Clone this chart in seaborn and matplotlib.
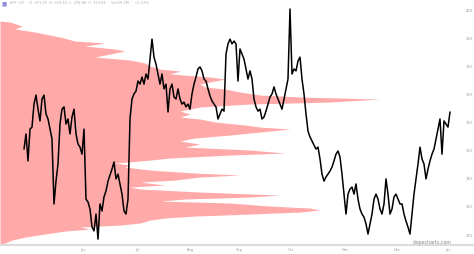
import numpy as np
import pandas as pd
import matplotlib
matplotlib.use("Agg")
import matplotlib.pyplot as plt
import seaborn as sns

# ---- data ----
price = [
    350.2, 355.6, 346.0, 357.3, 358.0, 366.2, 369.4, 364.4, 360.2, 368.0,
    369.4, 362.7, 360.9, 357.3, 353.8, 330.7, 338.8, 344.9, 359.1, 364.4,
    365.2, 359.1, 360.9, 355.6, 361.6, 364.4, 355.6, 352.0, 350.9, 348.4,
    357.3, 332.4, 331.4, 328.9, 322.5, 321.1, 327.1, 318.2, 330.7, 328.2,
    333.2, 335.3, 338.8, 341.0, 343.1, 345.6, 339.6, 341.3, 337.8, 334.2,
    328.2, 327.1, 332.4, 360.9, 368.0, 369.8, 370.8, 374.4, 373.3, 375.8,
    373.3, 376.9, 375.1, 382.2, 389.3, 382.9, 380.4, 376.9, 373.3, 376.9,
    371.6, 373.3, 363.4, 371.6, 373.3, 368.7, 368.0, 371.6, 368.0, 366.2,
    366.9, 365.2, 366.2, 364.4, 369.8, 373.3, 375.8, 378.7, 379.4, 378.0,
    375.1, 374.4, 371.6, 369.1, 367.3, 366.2, 365.2, 360.9, 362.7, 364.4,
    363.7, 384.0, 387.6, 389.3, 387.6, 388.6, 387.6, 374.4, 385.8, 384.0,
    382.2, 378.7, 375.1, 378.0, 375.1, 368.0, 365.2, 363.7, 364.4, 360.9,
    361.6, 363.7, 366.2, 368.7, 369.8, 372.3, 369.8, 368.0, 366.2, 364.4,
    368.0, 371.6, 375.1, 400.0, 376.9, 378.7, 378.0, 381.5, 382.9, 375.1,
    369.8, 362.7, 356.6, 354.5, 353.1, 351.6, 350.2, 350.9, 346.7, 341.3,
    338.8, 340.3, 341.3, 342.4, 343.8, 346.0, 348.4, 349.5, 347.4, 341.3,
    334.2, 327.1, 334.2, 336.0, 336.7, 334.2, 337.8, 332.4, 328.9, 327.1,
    326.0, 323.6, 320.0, 323.6, 327.1, 332.4, 334.2, 332.4, 328.9, 327.1,
    330.7, 339.6, 334.2, 327.1, 328.9, 333.2, 334.2, 332.4, 330.7, 330.7,
    327.1, 324.6, 322.5, 320.0, 327.1, 334.2, 339.6, 344.9, 350.9, 346.7,
    344.9, 339.6, 343.1, 346.0, 348.4, 350.2, 353.8, 357.3, 360.9, 348.4,
    360.2, 359.1, 358.0, 363.4,
]

# volume-at-price profile: price levels and relative volume
profile_y_px = [22, 23, 27, 30, 33, 38, 42, 44, 47, 50, 52, 55, 58, 61, 64, 67, 70, 72,
                75, 78, 80, 82, 85, 88, 90, 93, 96, 98, 100, 103, 105, 108, 110, 112,
                115, 118, 120, 123, 126, 128, 130, 133, 136, 139, 142, 145, 148, 151,
                154, 156, 159, 162, 164, 166, 168, 171, 174, 176, 178, 181, 183, 186,
                188, 190, 193, 196, 198, 200, 202, 204, 207, 209, 211, 213, 215, 217,
                219, 221, 224, 226, 228, 230, 232, 235, 238, 241, 244, 246]
profile_volume = [0, 10, 22, 15, 35, 60, 75, 105, 85, 115, 125, 110, 95, 130, 145, 150,
                  160, 180, 170, 210, 225, 215, 200, 205, 225, 240, 260, 300, 380, 330,
                  250, 200, 190, 180, 190, 180, 200, 215, 245, 260, 290, 260, 230, 195,
                  180, 200, 185, 250, 285, 230, 170, 140, 115, 130, 125, 150, 195, 240,
                  200, 175, 140, 165, 130, 140, 200, 280, 250, 185, 160, 230, 270, 310,
                  320, 300, 250, 195, 165, 150, 140, 120, 80, 90, 65, 45, 25, 12, 5, 0]
profile_price = [round(400 - (p - 10) * 0.3556, 2) for p in profile_y_px]

y_ticks = [400, 390, 380, 370, 360, 350, 340, 330, 320]
x_tick_pos = [29.5, 56.5, 83.5, 107.5, 133.5, 160.5, 186.5, 212]
x_tick_labels = ["Jun", "Jul", "Aug", "Sep", "Oct", "Nov", "Dec", "Jan"]
header = "SPY  1D  ·  O: 371.25  H: 374.10  L: 370.88  C: 373.63  ·  Vol 58.2M  ·  +1.12%"

df = pd.DataFrame({"idx": np.arange(len(price)), "price": price})

# ---- figure ----
sns.set_theme(style="white")
plt.rcParams["font.family"] = ["DejaVu Sans"]
fig = plt.figure(figsize=(4.74, 2.55), dpi=100)
fig.patch.set_facecolor("white")

ax_vol = fig.add_axes([0, 9 / 255, 1, 246 / 255])
ax_vol.set_xlim(0, 474)
ax_vol.set_ylim(316.1, 403.56)
ax_vol.fill_betweenx(profile_price, 0, profile_volume, color="#ffa9a9", lw=0, zorder=1)

ax_price = ax_vol.twiny()
ax_price.patch.set_visible(False)
sns.lineplot(data=df, x="idx", y="price", ax=ax_price, color="black", lw=1.1,
             estimator=None, sort=False)
ax_price.set_xlim(-12, 225)
ax_price.set_xlabel("")
ax_price.set_ylabel("")
ax_vol.set_ylabel("")

for a in (ax_vol, ax_price):
    for s in a.spines.values():
        s.set_visible(False)
ax_vol.spines["bottom"].set_visible(True)
ax_vol.spines["bottom"].set_color("#dcdcdc")
ax_vol.spines["bottom"].set_linewidth(1.6)

ax_vol.set_xticks([])
ax_price.xaxis.set_ticks_position("bottom")
ax_price.set_xticks(x_tick_pos)
ax_price.set_xticklabels(x_tick_labels, fontsize=2.6, color="#999999")
ax_price.tick_params(axis="x", length=0, pad=1.5)

ax_vol.yaxis.tick_right()
ax_vol.set_yticks(y_ticks)
ax_vol.set_yticklabels([str(v) for v in y_ticks], fontsize=2.6, color="#999999")
ax_vol.tick_params(axis="y", length=0, pad=-6)

fig.text(2 / 474, 1 - 1 / 255, "\u25a0", fontsize=4, color="#8f8fd8", va="top", ha="left")
fig.text(10 / 474, 1 - 1 / 255, header, fontsize=2.6, color="#aaaaaa", va="top", ha="left")
fig.text(432 / 474, 1 - 243 / 255, "slopecharts.com", fontsize=3.4, color="#888888",
         ha="center", va="center")

fig.savefig("out.png", dpi=100, facecolor="white")
